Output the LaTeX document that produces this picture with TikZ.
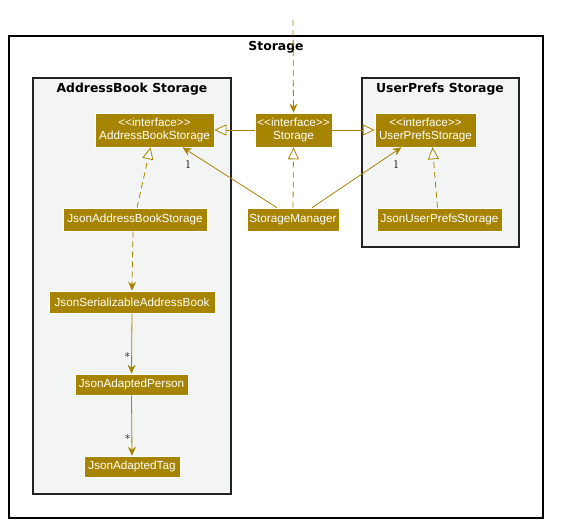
\documentclass[tikz,border=0pt]{standalone}
\usepackage{fontspec}
\setsansfont{Liberation Sans}
\newfontfamily\titlefont{DejaVu Sans}
\usetikzlibrary{arrows.meta,positioning}
\definecolor{gold}{HTML}{A68400}
\definecolor{pkgbg}{HTML}{F3F4F4}
\definecolor{pkgline}{HTML}{222222}
\newcommand{\stereo}{<{}<interface>{}>}
\tikzset{
  cls/.style={fill=gold,draw=white,line width=0.6pt,text=white,inner sep=0pt,align=center,
    font=\sffamily\fontsize{11.7}{13}\selectfont},
  pkgbox/.style={draw=pkgline,line width=1.2pt,fill=pkgbg},
  ptitle/.style={font=\titlefont\bfseries\fontsize{12.4}{14}\selectfont,inner sep=0pt},
  mult/.style={font=\fontsize{12}{13}\selectfont,inner sep=0pt},
  ar/.style={-{Stealth[length=9pt,width=8pt,inset=3pt]},draw=gold,line width=0.8pt},
  dar/.style={ar,dash pattern=on 6pt off 4pt},
  gen/.style={-{Triangle[open,length=12pt,width=11pt,fill=white]},draw=gold,line width=0.8pt},
  impl/.style={gen,dash pattern=on 6pt off 4pt},
}
\begin{document}
\begin{tikzpicture}[x=1pt,y=-1pt]
  \useasboundingbox (0,0) rectangle (571,527);
  % frames
  \draw[black,line width=1.2pt,fill=white] (9,36) rectangle (543,518);
  \node[ptitle] (tstore) at (276,47) {Storage};
  \draw[pkgbox] (33,78) rectangle (231,494);
  \node[ptitle] (tab) at (132,89) {AddressBook Storage};
  \draw[pkgbox] (362,78) rectangle (519,247);
  \node[ptitle] (tup) at (440,89) {UserPrefs Storage};

  % classes
  \node[cls,minimum width=119,minimum height=34] (abs) at (154.5,130) {\stereo\\AddressBookStorage};
  \node[cls,minimum width=77,minimum height=34] (st) at (293.5,130) {\stereo\\Storage};
  \node[cls,minimum width=101,minimum height=34] (ups) at (425.5,130) {\stereo\\UserPrefsStorage};
  \node[cls,minimum width=144,minimum height=23] (jabs) at (135,219.5) {JsonAddressBookStorage};
  \node[cls,minimum width=92,minimum height=23] (sm) at (293,219.5) {StorageManager};
  \node[cls,minimum width=125,minimum height=23] (jups) at (439.5,219.5) {JsonUserPrefsStorage};
  \node[cls,minimum width=166,minimum height=22] (jsab) at (132,302) {JsonSerializableAddressBook};
  \node[cls,minimum width=113,minimum height=21] (jap) at (131.5,384.5) {JsonAdaptedPerson};
  \node[cls,minimum width=96,minimum height=21] (jat) at (132,466.5) {JsonAdaptedTag};
  \coordinate (src) at (293,20);

  % connectors
  \draw[dar] (src) -- (st.north);
  \draw[gen] (st.west) -- (abs.east);
  \draw[gen] (st.east) -- (ups.west);
  \draw[impl] (sm.north) -- (st.south);
  \draw[ar] ([xshift=-16pt]sm.north) -- ([xshift=28pt]abs.south) node[mult,pos=0.94,below=9pt] {1};
  \draw[ar] ([xshift=19pt]sm.north) -- ([xshift=-24pt]ups.south) node[mult,pos=0.94,below=9pt] {1};
  \draw[impl] ([xshift=2pt]jabs.north) -- ([xshift=-4pt]abs.south);
  \draw[impl] ([xshift=-2pt]jups.north) -- ([xshift=7pt]ups.south);
  \draw[dar] ([xshift=-2pt]jabs.south) -- (jsab.north);
  \draw[ar] (jsab.south) -- (jap.north) node[mult,pos=0.72,left=1pt] {*};
  \draw[ar] (jap.south) -- (jat.north) node[mult,pos=0.72,left=1pt] {*};
\end{tikzpicture}
\end{document}
